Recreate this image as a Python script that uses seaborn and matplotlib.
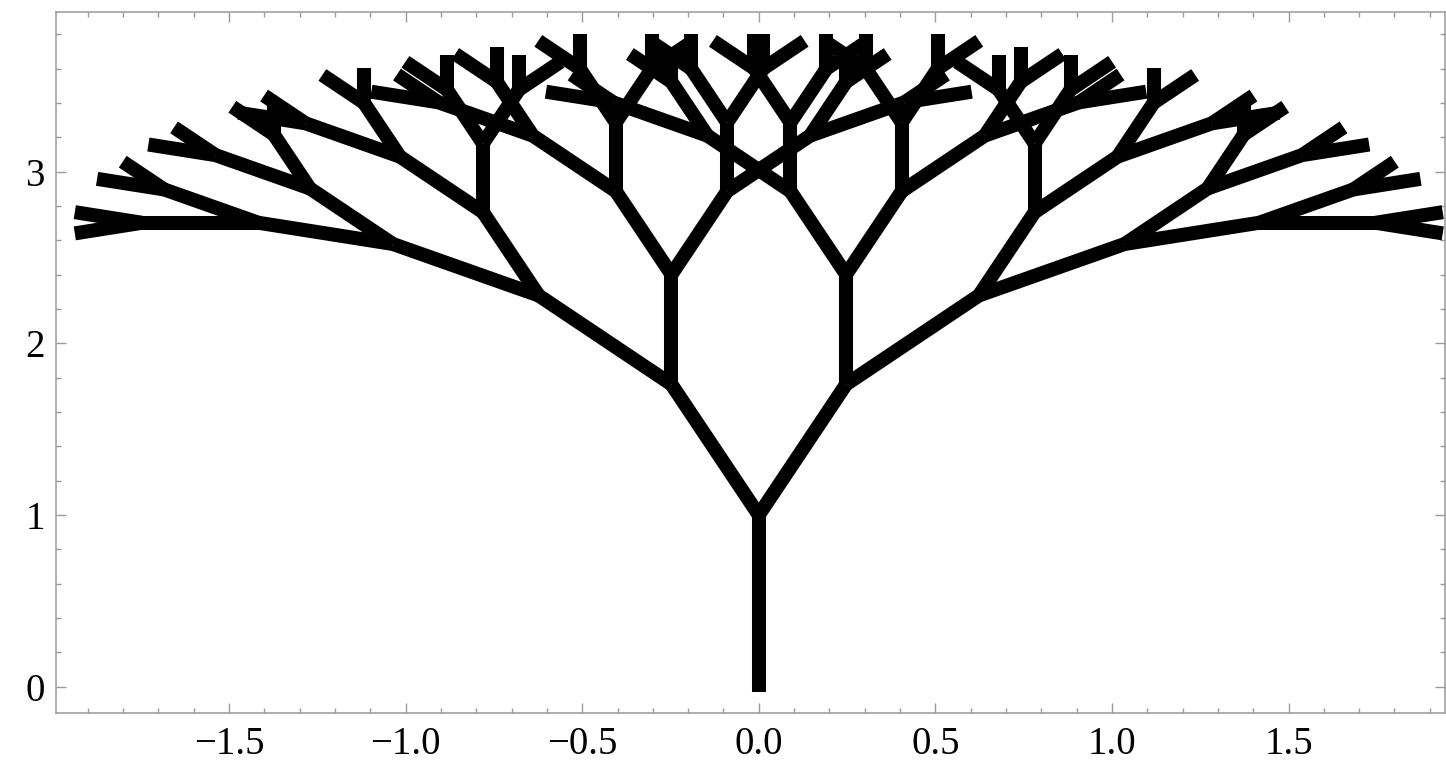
import numpy as np
import pandas as pd
import matplotlib.pyplot as plt
from matplotlib.ticker import MultipleLocator
import seaborn as sns

# tree parameters
trunk_base = (0.0, -0.03)
start_heading = 90.0                 # degrees, trunk points straight up
branch_angle = 18.0                  # each child turns +/- this much
segment_lengths = [1.03, 0.8, 0.64, 0.51, 0.40, 0.33, 0.20]  # trunk, then each level

x_ticks = [-1.5, -1.0, -0.5, 0.0, 0.5, 1.0, 1.5]
y_ticks = [0, 1, 2, 3]


def build_tree():
    rows = []
    seg_id = 0
    # (start point, heading, level)
    stack = [(trunk_base, start_heading, 0)]
    while stack:
        (x0, y0), heading, level = stack.pop()
        length = segment_lengths[level]
        a = np.radians(heading)
        x1 = x0 + length * np.cos(a)
        y1 = y0 + length * np.sin(a)
        rows.append({"seg": seg_id, "x": x0, "y": y0})
        rows.append({"seg": seg_id, "x": x1, "y": y1})
        seg_id += 1
        if level + 1 < len(segment_lengths):
            stack.append(((x1, y1), heading + branch_angle, level + 1))
            stack.append(((x1, y1), heading - branch_angle, level + 1))
    return pd.DataFrame(rows)


df = build_tree()

sns.set_style("ticks")
plt.rcParams['font.family'] = ['Liberation Serif', 'DejaVu Serif']

fig = plt.figure(figsize=(14.46, 7.63), dpi=100)
ax = fig.add_axes([0.0387, 0.0651, 0.9606, 0.9195])

sns.lineplot(data=df, x="x", y="y", units="seg", estimator=None, sort=False,
             color="black", linewidth=10.1, solid_capstyle="butt", ax=ax,
             legend=False)

ax.set_xlim(-1.99, 1.943)
ax.set_ylim(-0.155, 3.931)
ax.set_xlabel("")
ax.set_ylabel("")

ax.set_xticks(x_ticks)
ax.set_xticklabels([f"{v:.1f}".replace("-", "\u2212") for v in x_ticks])
ax.set_yticks(y_ticks)
ax.set_yticklabels([str(v) for v in y_ticks])
ax.xaxis.set_minor_locator(MultipleLocator(0.1))
ax.yaxis.set_minor_locator(MultipleLocator(0.2))

grey = "#9a9a9a"
for s in ax.spines.values():
    s.set_color(grey)
    s.set_linewidth(1.1)

ax.tick_params(which="both", direction="in", top=True, right=True,
               color=grey, labelcolor="black", width=1.0)
ax.tick_params(which="major", length=7.5, labelsize=28)
ax.tick_params(axis="x", which="major", pad=9)
ax.tick_params(axis="y", which="major", pad=8)
ax.tick_params(which="minor", length=3.8)

fig.savefig("out.png", dpi=100)
